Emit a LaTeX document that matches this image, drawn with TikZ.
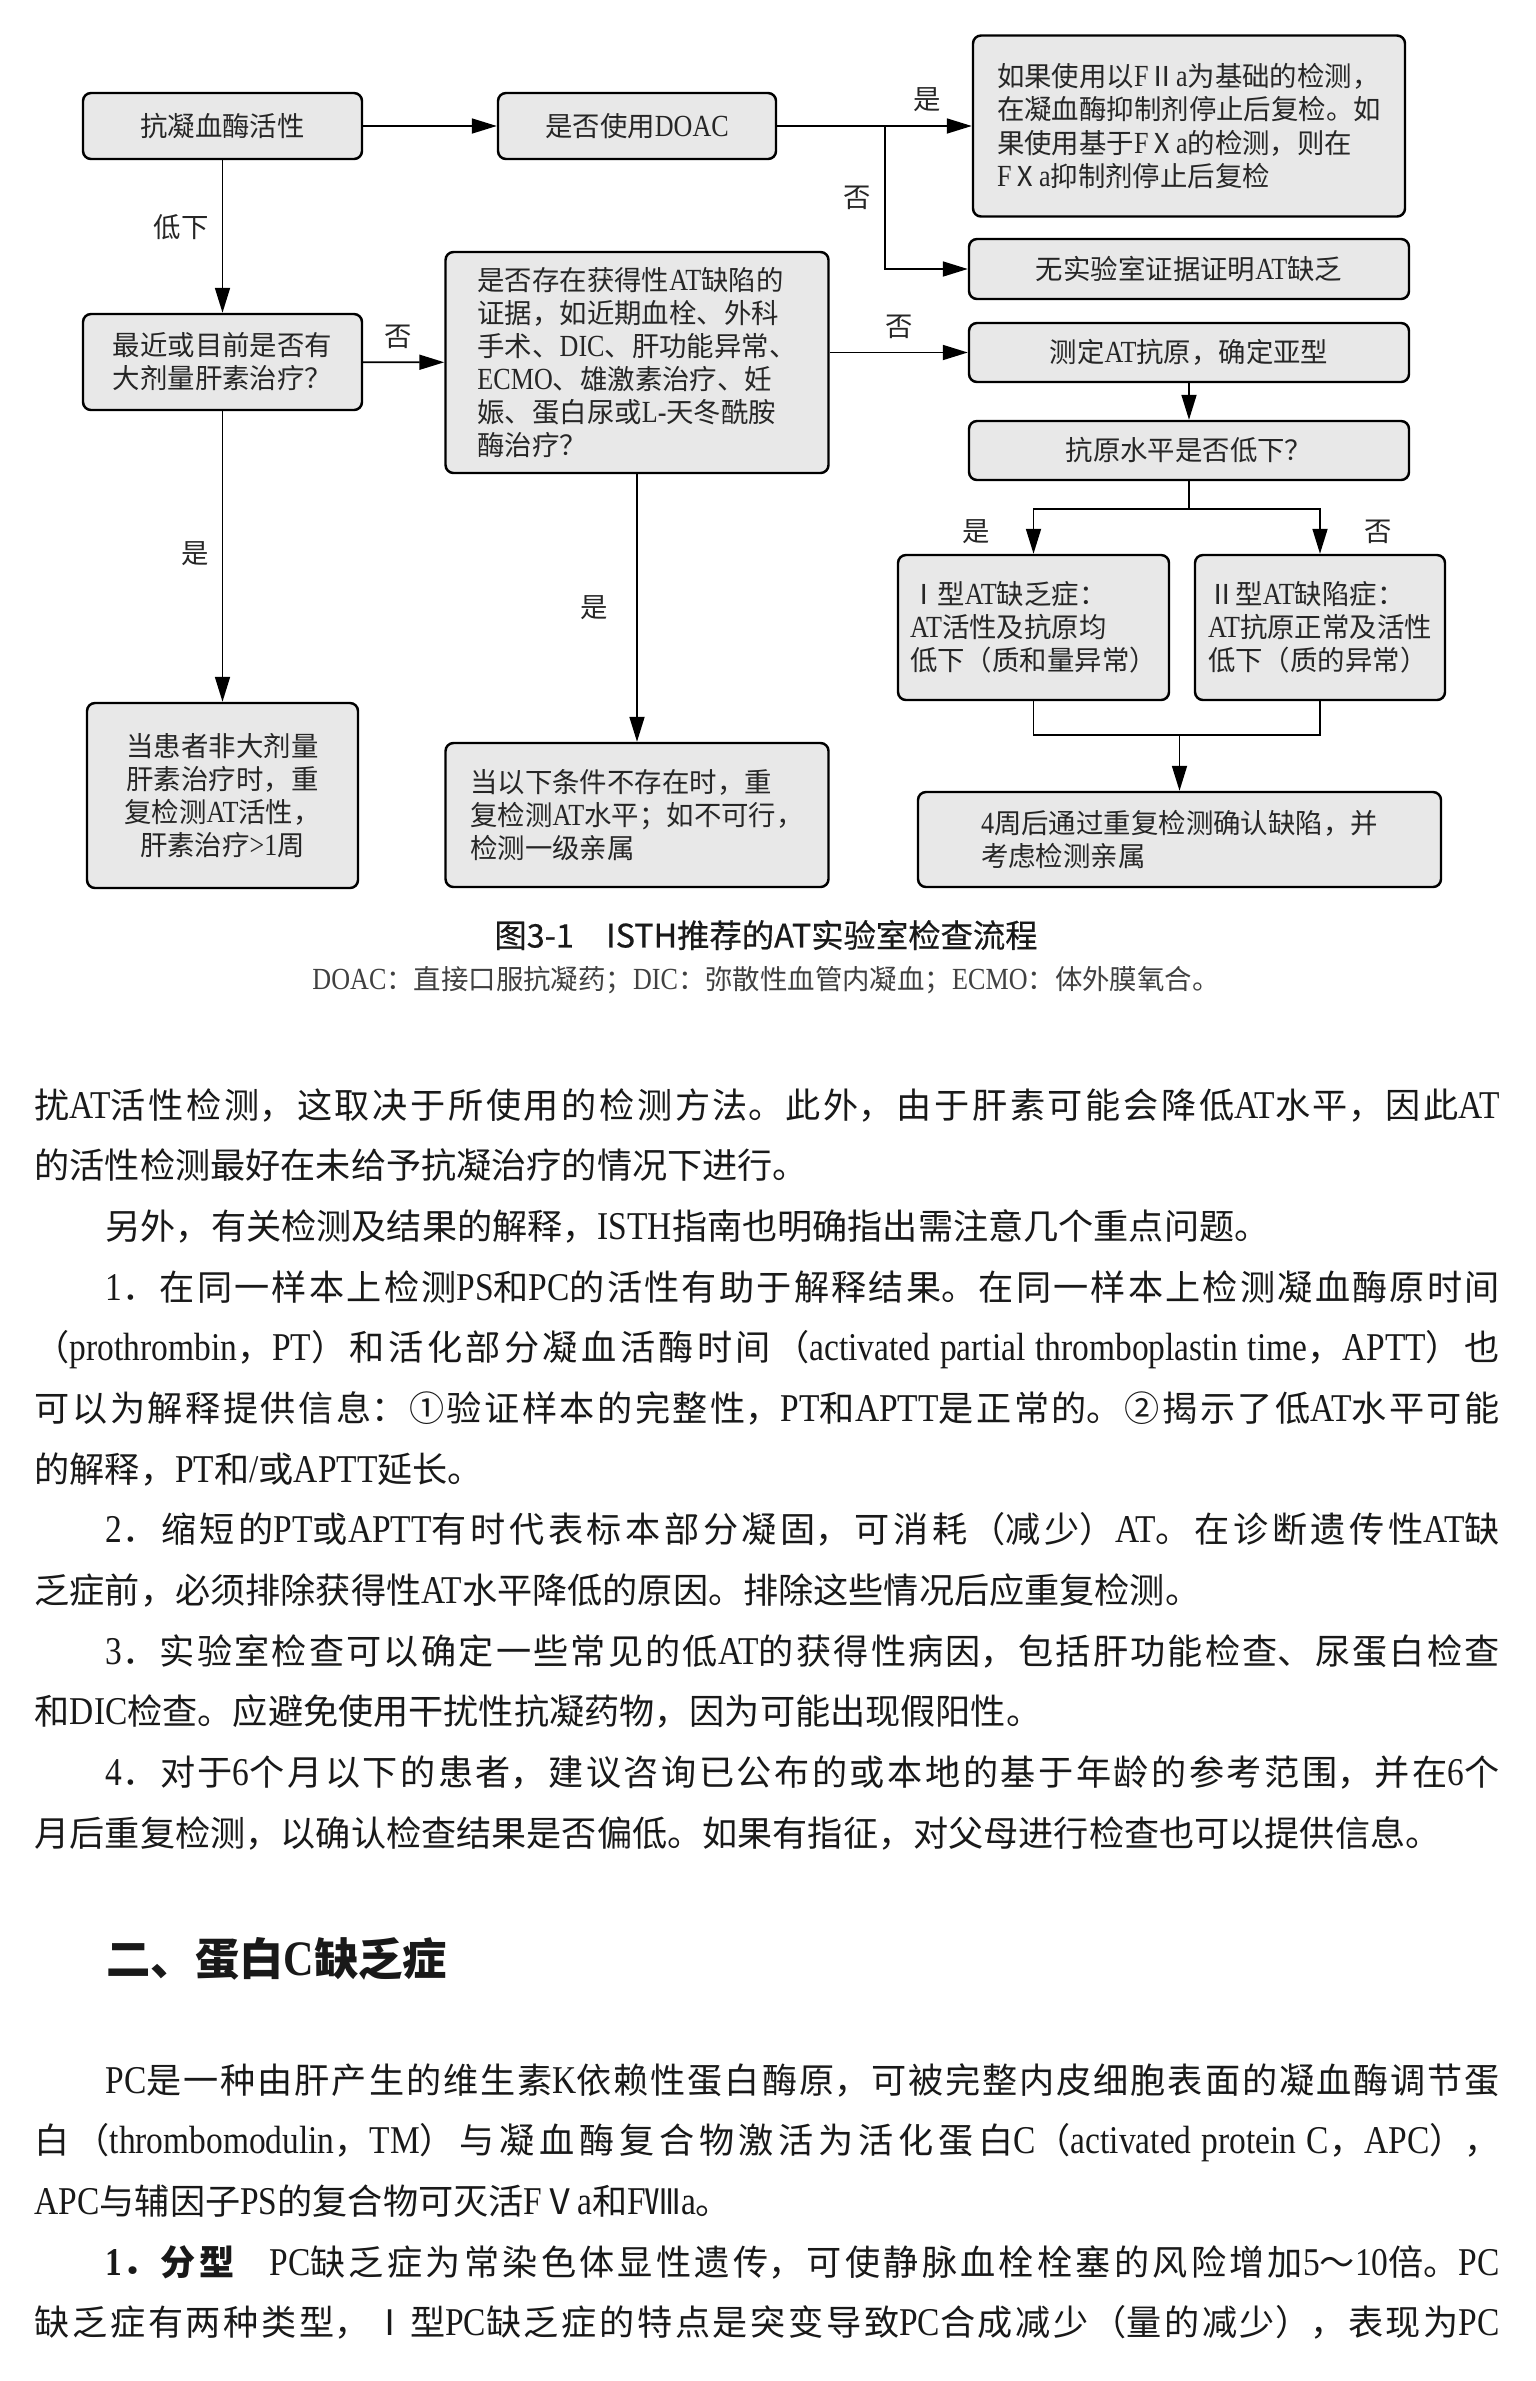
\documentclass[tikz,border=0pt]{standalone}
\usepackage{fontspec}
\usepackage{xcolor}
\usepackage{tikz}
\usetikzlibrary{arrows.meta, positioning}

\setmainfont{Liberation Serif}[Scale=1.12, FakeStretch=0.85]
\newfontfamily\cjkfont{Noto Sans CJK SC}
\newfontfamily\capfont{Noto Sans CJK SC}[FakeBold=0.5]

% Chinese characters in the CJK font, Latin text in the serif
\newXeTeXintercharclass\cjkclass
\def\markcjk#1#2{\count255=#1\relax
  \loop\ifnum\count255<#2\relax
    \XeTeXcharclass\count255=\cjkclass
    \advance\count255 by 1
  \repeat}
\markcjk{"2160}{"2190}
\markcjk{"2460}{"2500}
\markcjk{"3000}{"3040}
\markcjk{"4E00}{"A000}
\markcjk{"FF00}{"FFF0}
\def\cjksel{\cjkfont}
\def\latsel{\rmfamily}
\XeTeXinterchartoks 0 \cjkclass = {\cjksel}
\XeTeXinterchartoks 4095 \cjkclass = {\cjksel}
\XeTeXinterchartoks \cjkclass 0 = {\latsel}
\XeTeXinterchartoks 4095 0 = {\latsel}
\XeTeXinterchartokenstate=1
\XeTeXlinebreaklocale "zh"
\XeTeXlinebreakskip=0pt plus 3pt

\begin{document}
\begin{tikzpicture}[node distance=1.5cm, align=center]
    % Define styles
    \tikzstyle{box} = [rectangle, rounded corners=0.8mm, draw=black, line width=0.7pt, fill=gray!18, inner sep=1pt, text=black!85, font=\fontsize{7.8}{9.4}\selectfont]
    \tikzstyle{answer} = [text=black!85, font=\fontsize{7.8}{9.4}\selectfont]
    \tikzstyle{arrow} = [line width=0.5pt, -{Triangle[length=2.5mm,width=1.5mm]}]
    \tikzstyle{body} = [anchor=base west, inner sep=0pt, text width=14.65cm, align=justify, text=black!90, font=\fontsize{10}{17.27}\selectfont]

    % Page
    \fill [white] (0,0) rectangle (15.36,-23.81);
    \useasboundingbox (0,0) rectangle (15.36,-23.81);

    % Nodes
    \node (activity) [box, minimum width=2.79cm, minimum height=0.66cm] at (2.225,-1.26) {抗凝血酶活性};
    \node (doac) [box, right of=activity, node distance=4.145cm, minimum width=2.78cm, minimum height=0.66cm] {是否使用DOAC};
    \node (recheck) [box, right of=doac, node distance=5.52cm, minimum width=4.32cm, minimum height=1.81cm, align=left] {如果使用以FⅡa为基础的检测，\\在凝血酶抑制剂停止后复检。如\\果使用基于FⅩa的检测，则在\\FⅩa抑制剂停止后复检};
    \node (noevid) [box, below of=recheck, node distance=1.43cm, minimum width=4.40cm, minimum height=0.60cm] {无实验室证据证明AT缺乏};
    \node (heparin) [box, below of=activity, node distance=2.36cm, minimum width=2.79cm, minimum height=0.96cm, align=left] {最近或目前是否有\\大剂量肝素治疗？};
    \node (acquired) [box, below of=doac, node distance=2.365cm, minimum width=3.83cm, minimum height=2.21cm, align=left] {是否存在获得性AT缺陷的\\证据，如近期血栓、外科\\手术、DIC、肝功能异常、\\ECMO、雄激素治疗、妊\\娠、蛋白尿或L-天冬酰胺\\酶治疗？};
    \node (antigen) [box, below of=noevid, node distance=0.835cm, minimum width=4.40cm, minimum height=0.59cm] {测定AT抗原，确定亚型};
    \node (level) [box, below of=antigen, node distance=0.98cm, minimum width=4.40cm, minimum height=0.59cm] {抗原水平是否低下？};
    \node (typeone) [box, minimum width=2.71cm, minimum height=1.45cm, align=left] at (10.335,-6.275) {Ⅰ型AT缺乏症：\\AT活性及抗原均\\低下（质和量异常）};
    \node (typetwo) [box, right of=typeone, node distance=2.865cm, minimum width=2.50cm, minimum height=1.45cm, align=left] {Ⅱ型AT缺陷症：\\AT抗原正常及活性\\低下（质的异常）};
    \node (retest) [box, below of=heparin, node distance=4.335cm, minimum width=2.71cm, minimum height=1.85cm] {当患者非大剂量\\肝素治疗时，重\\复检测AT活性，\\肝素治疗>1周};
    \node (relatives) [box, below of=acquired, node distance=4.525cm, minimum width=3.83cm, minimum height=1.44cm, align=left] {当以下条件不存在时，重\\复检测AT水平；如不可行，\\检测一级亲属};
    \node (confirm) [box, minimum width=5.23cm, minimum height=0.95cm, align=left] at (11.795,-8.395) {4周后通过重复检测确认缺陷，并\\考虑检测亲属};
    \coordinate (split) at (8.85,-1.26);
    \coordinate (fork) at (11.89,-5.09);
    \coordinate (join) at (11.795,-7.35);

    % Arrows
    \draw [arrow] (activity) -- (doac);
    \draw [arrow] (doac) -- node[answer, above, pos=0.77] {是} (recheck);
    \draw [arrow] (split) |- node[answer, left, pos=0.25] {否} (noevid);
    \draw [arrow] (activity) -- node[answer, left, pos=0.44] {低下} (heparin);
    \draw [arrow] (heparin) -- node[answer, above, pos=0.43] {否} (acquired);
    \draw [arrow] (acquired.east |- antigen) -- node[answer, above] {否} (antigen);
    \draw [arrow] (antigen) -- (level);
    \draw [arrow] (heparin) -- node[answer, left, pos=0.49] {是} (retest);
    \draw [arrow] (acquired) -- node[answer, left=1.5mm] {是} (relatives);
    \draw [line width=0.5pt] (level) -- (fork);
    \draw [arrow] (fork) -| node[answer, left=3mm, pos=0.75] {是} (typeone);
    \draw [arrow] (fork) -| node[answer, right=3mm, pos=0.75] {否} (typetwo);
    \draw [line width=0.5pt] (typeone) |- (join) -| (typetwo);
    \draw [arrow] (join) -- (confirm);

    % Caption
    \node (caption) [text=black!90, font=\fontsize{9.2}{11}\selectfont] at (7.66,-9.35) {\let\cjksel\capfont\let\latsel\capfont 图3-1\quad ISTH推荐的AT实验室检查流程};
    \node (abbrev) [text=black!75, font=\fontsize{7.8}{9.4}\selectfont] at (7.66,-9.80) {DOAC：直接口服抗凝药；DIC：弥散性血管内凝血；ECMO：体外膜氧合。};

    % Text
    \node (atpara) [body] at (0.34,-11.18) {扰AT活性检测，这取决于所使用的检测方法。此外，由于肝素可能会降低AT水平，因此AT\linebreak
的活性检测最好在未给予抗凝治疗的情况下进行。\par
\hspace*{0.71cm}另外，有关检测及结果的解释，ISTH指南也明确指出需注意几个重点问题。\par
\hspace*{0.71cm}1．在同一样本上检测PS和PC的活性有助于解释结果。在同一样本上检测凝血酶原时间\linebreak
（prothrombin，PT）和活化部分凝血活酶时间（activated partial thromboplastin time，APTT）也\linebreak
可以为解释提供信息：①验证样本的完整性，PT和APTT是正常的。②揭示了低AT水平可能\linebreak
的解释，PT和/或APTT延长。\par
\hspace*{0.71cm}2．缩短的PT或APTT有时代表标本部分凝固，可消耗（减少）AT。在诊断遗传性AT缺\linebreak
乏症前，必须排除获得性AT水平降低的原因。排除这些情况后应重复检测。\par
\hspace*{0.71cm}3．实验室检查可以确定一些常见的低AT的获得性病因，包括肝功能检查、尿蛋白检查\linebreak
和DIC检查。应避免使用干扰性抗凝药物，因为可能出现假阳性。\par
\hspace*{0.71cm}4．对于6个月以下的患者，建议咨询已公布的或本地的基于年龄的参考范围，并在6个\linebreak
月后重复检测，以确认检查结果是否偏低。如果有指征，对父母进行检查也可以提供信息。};
    \node (pchead) [anchor=base west, inner sep=0pt, text=black!90, font=\fontsize{12.6}{15}\selectfont\bfseries] at (1.06,-19.75) {二、蛋白C缺乏症};
    \node (pcpara) [body] at (0.34,-20.93) {\hspace*{0.71cm}PC是一种由肝产生的维生素K依赖性蛋白酶原，可被完整内皮细胞表面的凝血酶调节蛋\linebreak
白（thrombomodulin，TM）与凝血酶复合物激活为活化蛋白C（activated protein C，APC），\linebreak
APC与辅因子PS的复合物可灭活FⅤa和FⅧa。\par
\hspace*{0.71cm}{\bfseries 1．分型}\quad PC缺乏症为常染色体显性遗传，可使静脉血栓栓塞的风险增加5～10倍。PC\linebreak
缺乏症有两种类型，Ⅰ型PC缺乏症的特点是突变导致PC合成减少（量的减少），表现为PC{\parfillskip=0pt\par}};
\end{tikzpicture}
\end{document}
